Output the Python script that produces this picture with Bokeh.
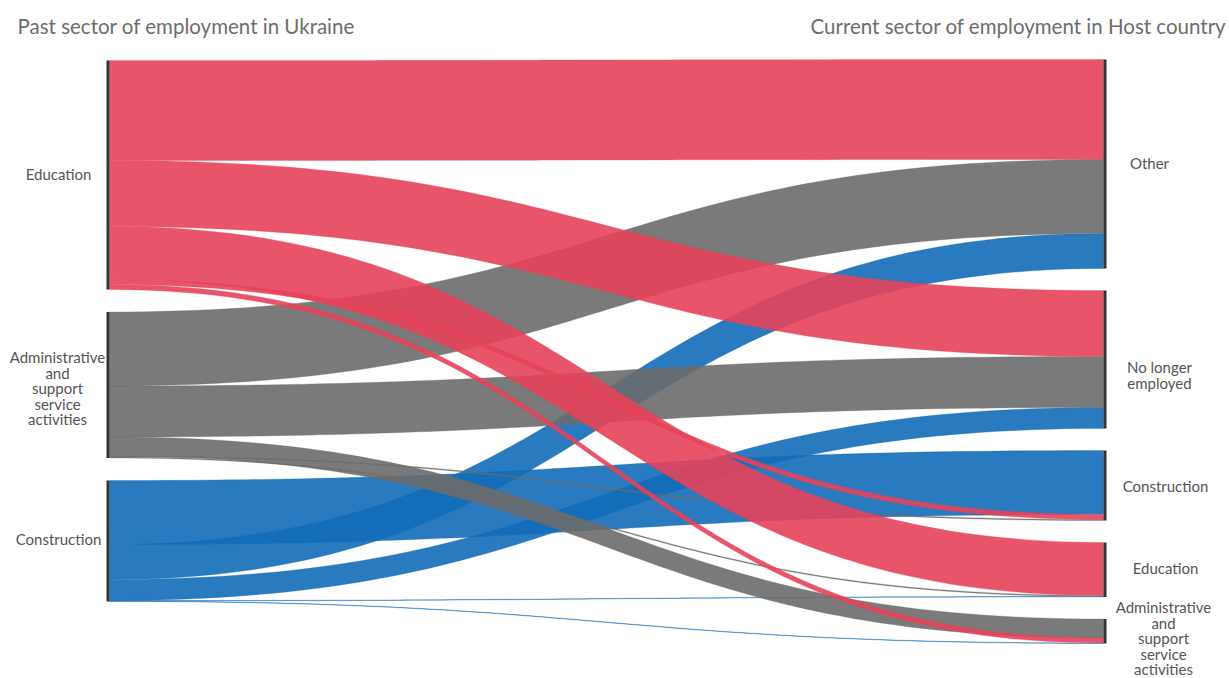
import numpy as np
from bokeh.plotting import figure
from bokeh.models import Range1d
from bokeh.core.properties import value
from bokeh.embed import file_html
from bokeh.resources import INLINE

# ---------------- data ----------------
sources = ["Education", "Administrative and support service activities", "Construction"]
targets = ["Other", "No longer employed", "Construction", "Education",
           "Administrative and support service activities"]

# flow values: rows = past sector (sources), cols = current sector (targets)
flow_education = [100, 66, 5, 53, 5]
flow_admin = [74, 51, 1, 1, 19]
flow_construction = [35, 21, 64, 0.5, 0.5]
flows = [flow_education, flow_admin, flow_construction]

source_colors = ["#E5425A", "#6C6C6C", "#126CB7"]

# link ordering inside each node (layout)
src_order = [[0, 1, 3, 2, 4], [0, 1, 4, 2, 3], [2, 0, 1, 3, 4]]
tgt_order = [[0, 1, 2], [0, 1, 2], [2, 0, 1], [0, 1, 2], [1, 0, 2]]

left_title = "Past sector of employment in Ukraine"
right_title = "Current sector of employment in Host country"

# label lines
src_label_lines = [["Education"],
                   ["Administrative", "and", "support", "service", "activities"],
                   ["Construction"]]
tgt_label_lines = [["Other"], ["No longer", "employed"], ["Construction"], ["Education"],
                   ["Administrative", "and", "support", "service", "activities"]]

# ---------------- layout ----------------
W, H = 1229, 678
k = 1.0                     # pixels per unit
x_left, x_right = 109.0, 1103.0
left_top, left_gap = 60.0, 22.5
right_top, right_gap = 59.0, 22.0

src_tot = [sum(r) for r in flows]
tgt_tot = [sum(flows[s][t] for s in range(3)) for t in range(5)]

src_y = []
y = left_top
for v in src_tot:
    src_y.append(y)
    y += v * k + left_gap
tgt_y = []
y = right_top
for v in tgt_tot:
    tgt_y.append(y)
    y += v * k + right_gap

# link offsets
src_off = {}
for s in range(3):
    y = src_y[s]
    for t in src_order[s]:
        src_off[(s, t)] = y
        y += flows[s][t] * k
tgt_off = {}
for t in range(5):
    y = tgt_y[t]
    for s in tgt_order[t]:
        tgt_off[(s, t)] = y
        y += flows[s][t] * k

tt = np.linspace(0, 1, 80)


def bez(x0, y0, x1, y1):
    cx0 = x0 + (x1 - x0) * 0.5
    cx1 = x1 - (x1 - x0) * 0.5
    bx = (1 - tt) ** 3 * x0 + 3 * (1 - tt) ** 2 * tt * cx0 + 3 * (1 - tt) * tt ** 2 * cx1 + tt ** 3 * x1
    by = (1 - tt) ** 3 * y0 + 3 * (1 - tt) ** 2 * tt * y0 + 3 * (1 - tt) * tt ** 2 * y1 + tt ** 3 * y1
    return bx, by


p = figure(width=W, height=H, x_range=Range1d(0, W), y_range=Range1d(H, 0),
           output_backend="svg", toolbar_location=None, min_border=0)
p.axis.visible = False
p.grid.visible = False
p.outline_line_color = None
p.background_fill_color = "white"

draw_order = [2, 1, 0]
for s in draw_order:
    xs, ys, = [], []
    for t in range(5):
        h = flows[s][t] * k
        y0 = src_off[(s, t)]
        y1 = tgt_off[(s, t)]
        tx, ty = bez(x_left, y0, x_right, y1)
        bx, by = bez(x_left, y0 + h, x_right, y1 + h)
        xs.append(np.concatenate([tx, bx[::-1]]).tolist())
        ys.append(np.concatenate([ty, by[::-1]]).tolist())
    p.patches(xs, ys, fill_color=source_colors[s], fill_alpha=0.9,
              line_color=source_colors[s], line_alpha=0.6, line_width=0.5)

# node bars
p.segment(x0=[x_left - 1.5] * 3, y0=src_y,
          x1=[x_left - 1.5] * 3, y1=[src_y[i] + src_tot[i] * k for i in range(3)],
          line_color="#333333", line_width=3)
p.segment(x0=[x_right + 1.5] * 5, y0=tgt_y,
          x1=[x_right + 1.5] * 5, y1=[tgt_y[i] + tgt_tot[i] * k for i in range(5)],
          line_color="#333333", line_width=3)

# labels
line_h = 15.5
src_lab_x = [58, 57, 58]
src_dy = [-1.5, 3, -2.5]
tgt_lab_x = [1149, 1159, 1165, 1165, 1163]
tgt_dy = [-1.5, 15.5, 0, -2, 7]

lx, ly, lt = [], [], []
for i in range(3):
    c = src_y[i] + src_tot[i] * k / 2 + src_dy[i]
    n = len(src_label_lines[i])
    for j, ln in enumerate(src_label_lines[i]):
        lx.append(src_lab_x[i])
        ly.append(c + (j - (n - 1) / 2) * line_h)
        lt.append(ln)
for i in range(5):
    c = tgt_y[i] + tgt_tot[i] * k / 2 + tgt_dy[i]
    n = len(tgt_label_lines[i])
    for j, ln in enumerate(tgt_label_lines[i]):
        lx.append(tgt_lab_x[i])
        ly.append(c + (j - (n - 1) / 2) * line_h)
        lt.append(ln)
p.text(x=lx, y=ly, text=lt, text_align="center", text_baseline="middle",
       text_font=value("Lato"), text_font_size="15px", text_color="#555555")

p.text(x=[17], y=[25], text=[left_title], text_align="left", text_baseline="middle",
       text_font=value("Lato"), text_font_size="20.5px", text_color="#6d6d6d")
p.text(x=[1226], y=[25], text=[right_title], text_align="right", text_baseline="middle",
       text_font=value("Lato"), text_font_size="20.5px", text_color="#6d6d6d")

open("out.html", "w").write(file_html(p, INLINE))
